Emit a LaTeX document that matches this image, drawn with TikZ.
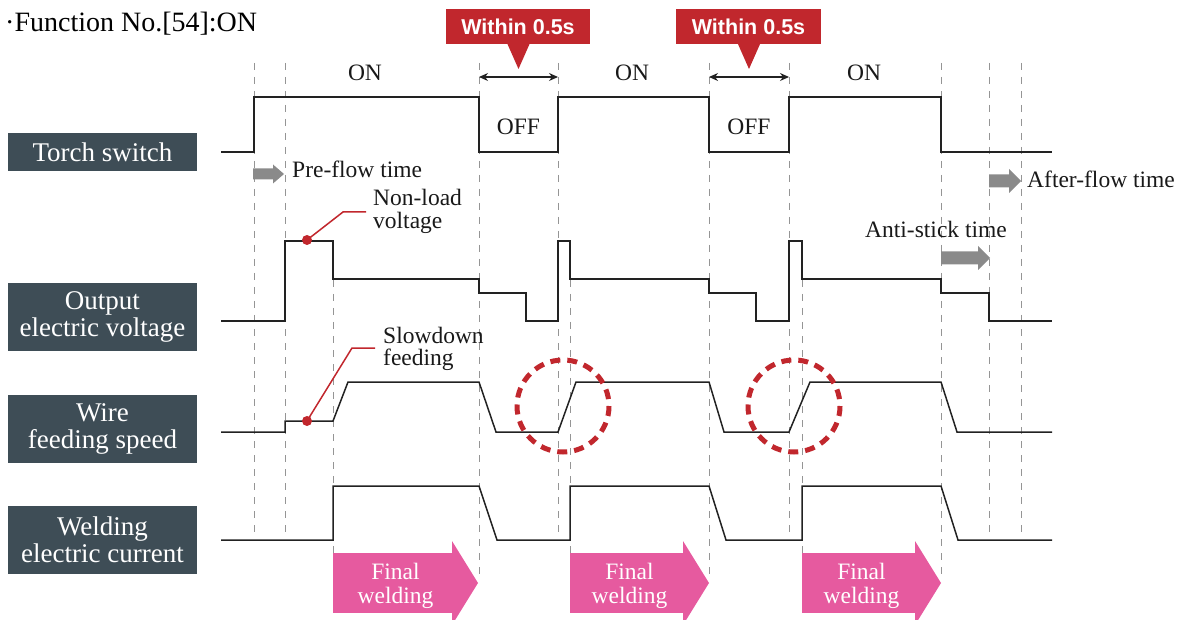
\documentclass[tikz,border=0pt]{standalone}
\usepackage{fontspec}
\setmainfont{Liberation Serif}
\newfontfamily\calloutfont{Liberation Sans}
\usetikzlibrary{arrows.meta}
\definecolor{slatebox}{HTML}{3E4D56}
\definecolor{redc}{HTML}{C1272D}
\definecolor{pinkc}{HTML}{E65A9F}
\definecolor{grayarr}{HTML}{8A8A8A}
\definecolor{sigc}{HTML}{222222}
\definecolor{dashc}{HTML}{959595}
\begin{document}
\begin{tikzpicture}[x=1pt,y=-1pt,
 sig/.style={draw=sigc, line width=1.5pt, line join=miter},
 vguide/.style={draw=dashc, line width=0.85pt, dash pattern=on 7pt off 7pt},
 lbl/.style={fill=slatebox, text=white, align=center, inner sep=0pt, minimum width=189pt, font=\fontsize{27}{27.5}\selectfont},
 note/.style={font=\fontsize{23.5}{22}\selectfont, inner sep=0pt, text=black!90},
 calloutbox/.style={fill=redc},
 callouttext/.style={text=white, font=\calloutfont\bfseries\fontsize{21.5}{22}\selectfont, inner sep=0pt},
 leader/.style={draw=redc, line width=1.5pt},
 reddot/.style={circle, fill=redc, inner sep=0pt, minimum size=10pt},
 redcircle/.style={draw=redc, line width=5pt, dash pattern=on 10pt off 7pt},
 pinkbody/.style={fill=pinkc},
 pinktext/.style={text=white, align=center, font=\fontsize{23.5}{24}\selectfont, inner sep=0pt},
 grayhead/.style={fill=grayarr},
 dimarrow/.style={{Stealth[length=9pt,width=8pt]}-{Stealth[length=9pt,width=8pt]}, line width=1.3pt, draw=sigc}
]
\useasboundingbox (0,0) rectangle (1186,620);

% title
\node[anchor=base west, inner sep=0pt, font=\fontsize{28}{28}\selectfont] (title) at (5,32) {·Function No.[54]:ON};

% vertical guides
\foreach \gx/\ga/\gb in {254/63/533, 285/63/533, 333/280/556, 479/63/578, 558/63/533, 570/280/556, 709/63/578, 789/63/533, 802/280/556, 941/63/578, 989/63/533, 1021/63/533}
  \draw[vguide] (\gx,\ga) -- (\gx,\gb);

% row labels
\node[lbl, minimum height=38pt] (torchlbl) at (102.5,152) {Torch switch};
\node[lbl, minimum height=68pt] (voltlbl) at (102.5,317) {Output\\electric voltage};
\node[lbl, minimum height=68pt] (wirelbl) at (102.5,429) {Wire\\feeding speed};
\node[lbl, minimum height=68pt] (currlbl) at (102.5,540) {Welding\\electric current};

% callouts
\fill[calloutbox] (446,9) rectangle (590,44);
\fill[calloutbox] (507,43) -- (518.5,69) -- (530,43) -- cycle;
\node[callouttext] (within1) at (518,27) {Within 0.5s};
\fill[calloutbox] (676,9) rectangle (821,44);
\fill[calloutbox] (737.5,43) -- (749,69) -- (760.5,43) -- cycle;
\node[callouttext] (within2) at (748.5,27) {Within 0.5s};

% dimension arrows
\coordinate (wa1) at (479,77);
\coordinate (wb1) at (558,77);
\coordinate (wa2) at (709,77);
\coordinate (wb2) at (789,77);
\draw[dimarrow] (wa1) -- (wb1);
\draw[dimarrow] (wa2) -- (wb2);

% ON / OFF
\node[note, anchor=base] (on1) at (365,81) {ON};
\node[note, anchor=base] (on2) at (632,81) {ON};
\node[note, anchor=base] (on3) at (864,81) {ON};
\node[note, anchor=base] (off1) at (518.5,135) {OFF};
\node[note, anchor=base] (off2) at (749,135) {OFF};

% signals
\draw[sig] (221,152) -| (254,97) -| (479,152) -| (558,97) -| (709,152) -| (789,97) -| (941,152) -- (1052,152);
\draw[sig] (221,321) -| (285,241) -| (333,279) -| (479,293) -| (526,321) -| (558,241) -| (570,279) -| (709,293) -| (756,321) -| (789,241) -| (802,279) -| (941,293) -| (989,321) -- (1052,321);
\draw[sig] (221,432) -| (285,421) -- (333,421) -- (348,382) -- (479,382) -- (496,432) -- (558,432) -- (576,382) -- (709,382) -- (724,432) -- (789,432) -- (810,382) -- (941,382) -- (957,432) -- (1052,432);
\draw[sig] (221,540) -| (333,486) -- (479,486) -- (497,540) -- (570,540) -- (570,486) -- (709,486) -- (726,540) -- (802,540) -- (802,486) -- (941,486) -- (958,540) -- (1052,540);

% gray time arrows
\fill[grayhead] (253,168.5) -- (273,168.5) -- (273,164.5) -- (284,174) -- (273,183.5) -- (273,179.5) -- (253,179.5) -- cycle;
\node[note, anchor=base west] (preflow) at (292,178) {Pre-flow time};
\fill[grayhead] (989,174.5) -- (1009,174.5) -- (1009,169) -- (1021,181) -- (1009,193) -- (1009,187.5) -- (989,187.5) -- cycle;
\node[note, anchor=base west] (afterflow) at (1027,188) {After-flow time};
\fill[grayhead] (941,251.5) -- (978,251.5) -- (978,246) -- (990,258) -- (978,270) -- (978,264.5) -- (941,264.5) -- cycle;
\node[note, anchor=base west] (antistick) at (865,238) {Anti-stick time};

% non-load voltage annotation
\node[reddot] (nldot) at (307,240) {};
\coordinate (nlbend) at (343,212);
\coordinate (nlend) at (366,212);
\draw[leader] (nldot.center) -- (nlbend) -- (nlend);
\node[note, anchor=base west] (nltext1) at (373,206) {Non-load};
\node[note, anchor=base west] (nltext2) at (373,228.5) {voltage};

% slowdown feeding annotation
\node[reddot] (sddot) at (307,421) {};
\coordinate (sdbend) at (352,348);
\coordinate (sdend) at (375,348);
\draw[leader] (sddot.center) -- (sdbend) -- (sdend);
\node[note, anchor=base west] (sdtext1) at (383,343) {Slowdown};
\node[note, anchor=base west] (sdtext2) at (383,365.5) {feeding};

% dashed red circles
\node[draw=none, inner sep=0pt] (circ1) at (563,406) {};
\node[draw=none, inner sep=0pt] (circ2) at (794,406) {};
\draw[redcircle] (circ1.center) circle[radius=46];
\draw[redcircle] (circ2.center) circle[radius=46];

% final welding arrows
\foreach \ax/\ab/\at/\nm in {333/452/478/fw1, 570/683/709/fw2, 802/915/941/fw3} {
  \fill[pinkbody] (\ax,553) rectangle (\ab,613);
  \fill[pinkbody] (\ab,541) -- (\at,583) -- ({\at-22.9},620) -- (\ab,620) -- cycle;
  \node[pinktext] (\nm) at ({(\ax+\ab)/2+3},586) {Final\\welding};
}
\end{tikzpicture}
\end{document}
